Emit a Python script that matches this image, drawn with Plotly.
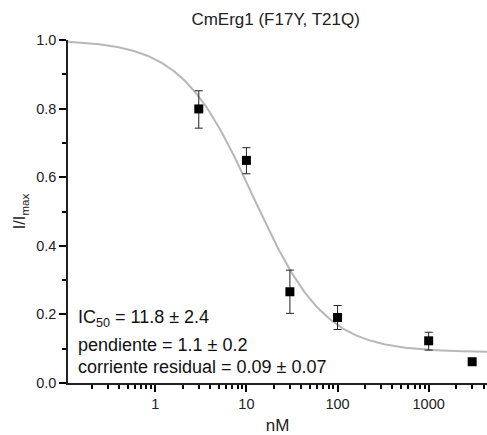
import numpy as np
import plotly.graph_objects as go

# Data
conc_nM = [3, 10, 30, 100, 1000, 3000]
i_norm = [0.799, 0.649, 0.266, 0.191, 0.123, 0.062]
err_plus = [0.053, 0.037, 0.063, 0.035, 0.025, 0.0]
err_minus = [0.056, 0.039, 0.063, 0.035, 0.027, 0.0]

# Fit parameters (Hill fit shown on chart)
ic50 = 11.8
slope = 1.1
residual = 0.09

x_fit = np.logspace(np.log10(0.11), np.log10(4500), 300)
y_fit = residual + (1 - residual) / (1 + (x_fit / ic50) ** slope)

FONT = "Liberation Sans, Arial, sans-serif"
AX = "black"
XRANGE = [-0.958, 3.64]

fig = go.Figure()
fig.add_trace(go.Scatter(x=x_fit, y=y_fit, mode="lines",
                         line=dict(color="#b8b8b8", width=2), hoverinfo="skip",
                         showlegend=False))
fig.add_trace(go.Scatter(x=conc_nM, y=i_norm, mode="markers",
                         marker=dict(symbol="square", size=9, color="black"),
                         error_y=dict(type="data", array=err_plus, arrayminus=err_minus,
                                      color="#222222", thickness=1, width=4),
                         showlegend=False))

ann_lines = ["IC<sub>50</sub> = 11.8 ± 2.4",
             "pendiente = 1.1 ± 0.2",
             "corriente residual = 0.09 ± 0.07"]
ann_y = [0.187, 0.111, 0.047]
for t, yy in zip(ann_lines, ann_y):
    fig.add_annotation(text=t, x=0.019, xref="paper", y=yy, yref="y",
                       xanchor="left", yanchor="middle", showarrow=False,
                       font=dict(family=FONT, size=18, color="#111111"))

fig.update_layout(
    width=487, height=435,
    margin=dict(l=68, r=0, t=40, b=52),
    paper_bgcolor="white", plot_bgcolor="white",
    font=dict(family=FONT, color="#222222"),
    title=dict(text="CmErg1 (F17Y, T21Q)", x=0.566,
               xanchor="center", y=1 - 19 / 435, yanchor="middle",
               font=dict(family=FONT, size=17, color="#222222")),
    xaxis=dict(type="log", range=XRANGE,
               tickmode="linear", tick0=0, dtick=1,
               ticks="outside", ticklen=7, tickwidth=2, tickcolor=AX,
               minor=dict(dtick="D1", ticks="outside", ticklen=4, tickwidth=1.5,
                          tickcolor=AX, showgrid=False),
               showline=True, linecolor="#222222", linewidth=1.6,
               showgrid=True, gridcolor="rgba(0,0,0,0)",
               tickfont=dict(size=14.5),
               title=dict(text="nM", font=dict(size=17), standoff=12)),
    yaxis=dict(range=[0, 1.0], dtick=0.2, tickformat=".1f",
               ticks="outside", ticklen=7, tickwidth=2, tickcolor=AX,
               minor=dict(dtick=0.1, ticks="outside", ticklen=4, tickwidth=1.5,
                          tickcolor=AX, showgrid=False),
               showline=True, linecolor="#222222", linewidth=1.6,
               showgrid=True, gridcolor="rgba(0,0,0,0)",
               tickfont=dict(size=14.5),
               title=dict(text="I/I<sub>max</sub>", font=dict(size=16.5), standoff=6)),
)

fig.write_html("out.html")
